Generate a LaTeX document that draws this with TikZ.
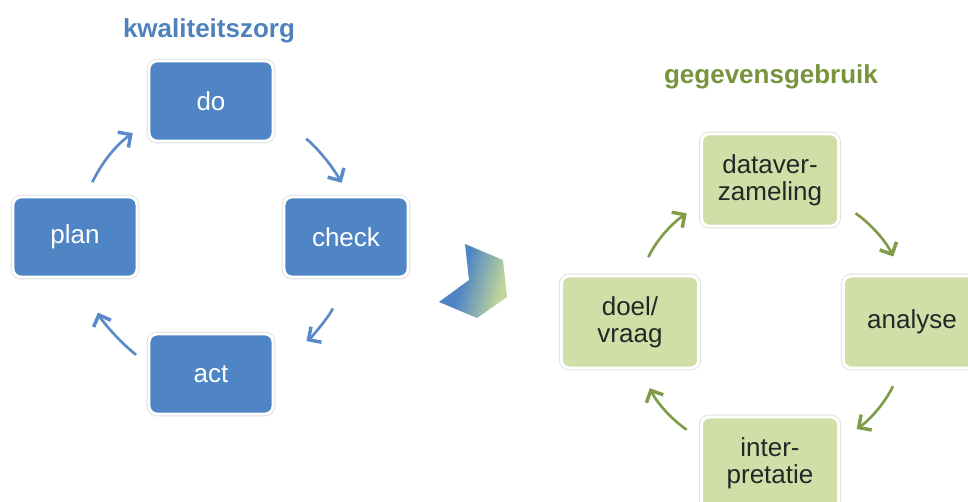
\documentclass[tikz,border=0pt]{standalone}
\usepackage{fontspec}
\setmainfont{Liberation Sans}
\usepackage{tikz}
\usetikzlibrary{arrows.meta}
\definecolor{kqblue}{HTML}{4F85C4}
\definecolor{kqtext}{HTML}{4F81BD}
\definecolor{kqarrow}{HTML}{5A8AC8}
\definecolor{ggfill}{HTML}{D0DEA8}
\definecolor{ggtext}{HTML}{77933C}
\definecolor{ggarrow}{HTML}{809C48}
\definecolor{ggchev}{HTML}{C2D69B}
\pgfdeclarehorizontalshading{chevshade}{100bp}{color(0bp)=(kqblue); color(42bp)=(kqblue);
  color(72bp)=(ggchev); color(100bp)=(ggchev)}
\newcommand{\boxfont}{\fontsize{19.5}{20.5}\selectfont}
\newcommand{\titlefont}{\fontsize{19.5}{21}\selectfont\bfseries}
\tikzset{
    cyclebox/.style={rectangle,rounded corners=6pt,draw=white,line width=2.2pt,
      preaction={draw=black!12,line width=3.6pt},font=\boxfont,align=center,inner sep=0pt},
    bluebox/.style={cyclebox,fill=kqblue,text=white,minimum width=93pt,minimum height=60pt},
    greenbox/.style={cyclebox,fill=ggfill,text=black!85,minimum width=103pt,minimum height=69pt},
    cyclearrow/.style={line width=2pt,-{Straight Barb[length=7pt,width=14pt,line width=2.6pt]}},
    bluearrow/.style={cyclearrow,draw=kqarrow},
    greenarrow/.style={cyclearrow,draw=ggarrow},
    cycletitle/.style={font=\titlefont,inner sep=0pt}
}
\begin{document}
\begin{tikzpicture}[x=0.75pt,y=0.75pt]
    \clip (0,0) rectangle (968,501);
    % kwaliteitszorg
    \node (kqtitle) at (209,470) [cycletitle,text=kqtext]{kwaliteitszorg};
    \node (do) at (211,400) [bluebox]{do};
    \node (plan) at (75,264) [bluebox]{plan};
    \node (check) at (346,264) [bluebox]{check};
    \node (act) at (211,127) [bluebox]{act};

    \draw[bluearrow,shorten <=11pt,shorten >=13.5pt] (plan.75) to[bend left=15] (do.199);
    \draw[bluearrow,shorten <=27.5pt,shorten >=11pt] (do.343) to[bend left=15] (check.86);
    \draw[bluearrow,shorten <=25pt,shorten >=29pt] (check.272) to[bend left=15] (act.10);
    \draw[bluearrow,shorten <=11pt,shorten >=27.5pt] (act.171) to[bend left=15] (plan.283);

    \shade[shading=chevshade,shading angle=-15] (465,257) -- (503,241)
      -- (507,204) -- (477,183) -- (439,199) -- (469,221) -- cycle;

    % gegevensgebruik
    \node (ggtitle) at (771,424) [cycletitle,text=ggtext]{gegevensgebruik};
    \node (verzamel) at (770,321) [greenbox]{dataver-\\zameling};
    \node (vraag) at (630,179) [greenbox]{doel/\\vraag};
    \node (analyse) at (912,179) [greenbox]{analyse};
    \node (interpret) at (770,38) [greenbox]{inter-\\pretatie};

    \draw[greenarrow,shorten <=14.5pt,shorten >=12pt] (vraag.78) to[bend left=15] (verzamel.199);
    \draw[greenarrow,shorten <=14pt,shorten >=15pt] (verzamel.342) to[bend left=15] (analyse.102);
    \draw[greenarrow,shorten <=14pt,shorten >=15pt] (analyse.257) to[bend left=15] (interpret.18);
    \draw[greenarrow,shorten <=12pt,shorten >=15.5pt] (interpret.161) to[bend left=15] (vraag.283);
  \end{tikzpicture}
\end{document}
